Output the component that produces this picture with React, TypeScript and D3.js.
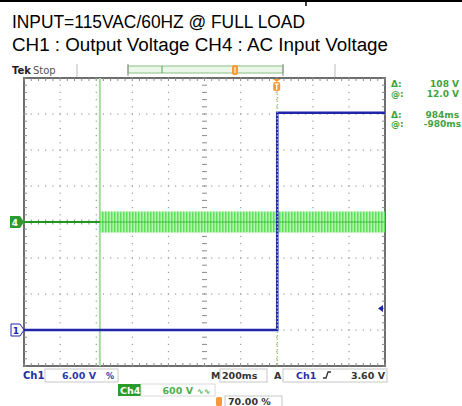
import React from 'react';
import * as d3 from 'd3';

// header text
const HEADER_1 = 'INPUT=115VAC/60HZ @ FULL LOAD';
const HEADER_2 = 'CH1 : Output Voltage CH4 : AC Input Voltage';

// time base: 200ms/div, trigger at 70%
const timeDomain = [-1.4, 0.6];
const ch1VoltsPerDiv = 6;
const ch1OffsetDiv = -3;
const ch4VoltsPerDiv = 600;

// CH1 output voltage (s, V)
const ch1Time = [-1.4, 0.003, 0.003, 0.6];
const ch1Volt = [0, 0, 36.2, 36.2];

// CH4 AC input, peak envelope (s, V)
const ch4Time = [-1.4, -0.98, -0.98, 0.6];
const ch4Peak = [0, 0, 175, 175];

// cursors + readouts
const cursorTime = [-0.98, 0.004];
const trigLevel = 3.6;
const readLabels = ['Δ:', '@:', 'Δ:', '@:'];
const readValues = ['108 V', '12.0 V', '984ms', '-980ms'];

const W = 462;
const H = 406;
const L = 24, R = 385, T = 78, B = 366;
const uiFont = "'DejaVu Sans', Verdana, sans-serif";
const narrow = "'Liberation Sans Narrow', 'Arial Narrow', 'Liberation Sans', sans-serif";

export default function App() {
  const x = d3.scaleLinear().domain(timeDomain).range([L, R]);
  const xDiv = d3.scaleLinear().domain([0, 10]).range([L, R]);
  const yDiv = d3.scaleLinear().domain([-4, 4]).range([B, T]);
  const y1 = (v: number) => yDiv(v / ch1VoltsPerDiv + ch1OffsetDiv);
  const y4 = (v: number) => yDiv(v / ch4VoltsPerDiv);

  const ch1Pts = ch1Time.map((t, i) => [t, ch1Volt[i]] as [number, number]);
  const ch1Line = d3.line<[number, number]>().x(d => x(d[0])).y(d => y1(d[1]));
  const ch4Pts = ch4Time.map((t, i) => [t, ch4Peak[i]] as [number, number]);
  const ch4Area = d3.area<[number, number]>().x(d => x(d[0])).y0(d => y4(-d[1])).y1(d => y4(d[1]));
  const ch4Line = d3.line<[number, number]>().x(d => x(d[0])).y(() => y4(0));

  const minorX = d3.range(0, 50.001, 1).map(i => xDiv(i / 5));
  const minorY = d3.range(0, 40.001, 1).map(i => yDiv(-4 + i / 5));
  const grid: JSX.Element[] = [];
  // dotted grid lines
  d3.range(1, 10).forEach(d => {
    if (d === 5) return;
    minorY.forEach((yy, k) => grid.push(<rect key={`gv${d}-${k}`} x={xDiv(d) - 0.5} y={yy - 0.6} width={1.2} height={1.2} fill="#9a9a9a" />));
  });
  d3.range(-3, 4).forEach(d => {
    if (d === 0) return;
    minorX.forEach((xx, k) => grid.push(<rect key={`gh${d}-${k}`} x={xx - 0.6} y={yDiv(d) - 0.5} width={1.2} height={1.2} fill="#9a9a9a" />));
  });
  // center cross ticks
  minorX.forEach((xx, k) => grid.push(<line key={`cx${k}`} x1={xx} x2={xx} y1={yDiv(0) - 2.5} y2={yDiv(0) + 2.5} stroke="#8a8a8a" strokeWidth={1} />));
  minorY.forEach((yy, k) => grid.push(<line key={`cy${k}`} x1={xDiv(5) - 2.5} x2={xDiv(5) + 2.5} y1={yy} y2={yy} stroke="#8a8a8a" strokeWidth={1} />));
  // border ticks
  minorX.forEach((xx, k) => {
    grid.push(<line key={`bt${k}`} x1={xx} x2={xx} y1={T} y2={T + 3} stroke="#8a8a8a" />);
    grid.push(<line key={`bb${k}`} x1={xx} x2={xx} y1={B - 3} y2={B} stroke="#8a8a8a" />);
  });
  minorY.forEach((yy, k) => {
    grid.push(<line key={`bl${k}`} x1={L} x2={L + 3} y1={yy} y2={yy} stroke="#8a8a8a" />);
    grid.push(<line key={`br${k}`} x1={R - 3} x2={R} y1={yy} y2={yy} stroke="#8a8a8a" />);
  });

  const cx1 = x(cursorTime[0]);
  const cx2 = x(cursorTime[1]);
  const trigX = x(0);
  const recX = d3.scaleLinear().domain([0, 1]).range([128, 283]);

  return (
    <svg width={W} height={H} style={{ position: 'absolute', left: 0, top: 0, background: '#fff' }}>
      <defs>
        <pattern id="acStripes" width={3} height={6} patternUnits="userSpaceOnUse">
          <rect width={3} height={6} fill="#b6f5b0" />
          <rect width={1.5} height={6} fill="#5fe05a" />
        </pattern>
      </defs>
      <line x1={0} x2={W} y1={1} y2={1} stroke="#000" strokeWidth={2} />
      <line x1={306} x2={306} y1={0} y2={6} stroke="#000" strokeWidth={1.5} />
      <text x={12} y={28} fontFamily={narrow} fontSize={18} textLength={293} lengthAdjust="spacingAndGlyphs">{HEADER_1}</text>
      <text x={12} y={50.5} fontFamily={narrow} fontSize={18} textLength={376} lengthAdjust="spacingAndGlyphs">{HEADER_2}</text>

      {/* Tek header / record bar */}
      <text x={12} y={74} fontFamily={uiFont} fontSize={10} fill="#222">
        <tspan fontWeight="bold">Tek</tspan>
        <tspan dx={2} fill="#555">Stop</tspan>
      </text>
      <line x1={77} x2={77} y1={64} y2={77} stroke="#bbb" />
      <line x1={335} x2={335} y1={64} y2={77} stroke="#bbb" />
      <rect x={recX(0)} y={66} width={recX(1) - recX(0)} height={7} fill="#eaf7e8" stroke="#8cbf88" strokeWidth={1} />
      <line x1={recX(0)} x2={recX(0)} y1={64} y2={76} stroke="#888" />
      <line x1={recX(1)} x2={recX(1)} y1={64} y2={76} stroke="#888" />
      <line x1={162} x2={162} y1={66} y2={73} stroke="#4aa84a" />
      <rect x={232} y={65} width={6} height={10} rx={2} fill="#f39a3a" />
      <line x1={235} x2={235} y1={67} y2={73} stroke="#fff" strokeWidth={1} />

      {/* graticule */}
      <rect x={L} y={T} width={R - L} height={B - T} fill="#fff" stroke="#6d6d6d" strokeWidth={2} />
      {grid}

      {/* cursor 1 */}
      <line x1={cx1} x2={cx1} y1={T} y2={B} stroke="#a6dba2" strokeWidth={2} />

      {/* CH4 */}
      <path d={ch4Line(ch4Pts) || ''} stroke="#1d9a1d" strokeWidth={2} fill="none" />
      <path d={ch4Area(ch4Pts.slice(2)) || ''} fill="url(#acStripes)" />
      <path d={ch4Line(ch4Pts.slice(2)) || ''} stroke="#3fb93f" strokeWidth={1} fill="none" />

      {/* CH1 */}
      <path d={ch1Line(ch1Pts) || ''} stroke="#1f26a8" strokeWidth={2.6} fill="none" />

      {/* cursor 2 */}
      <line x1={cx2} x2={cx2} y1={T + 12} y2={B} stroke="#9cc96a" strokeWidth={1.4} strokeDasharray="1.5 2" />

      {/* trigger position marker */}
      <path d={`M${trigX - 4},${T + 1} L${trigX + 4},${T + 1} L${trigX},${T + 4} Z`} fill="#f39a3a" />
      <rect x={trigX - 3.5} y={T + 4} width={7} height={9} rx={2} fill="#f39a3a" />
      <line x1={trigX} x2={trigX} y1={T + 6} y2={T + 12} stroke="#fff" strokeWidth={1.2} />
      <line x1={trigX - 2} x2={trigX + 2} y1={T + 6} y2={T + 6} stroke="#fff" strokeWidth={1.2} />

      {/* trigger level arrow */}
      <path d={`M${R - 7},${y1(trigLevel)} L${R - 2},${y1(trigLevel) - 3.5} L${R - 2},${y1(trigLevel) + 3.5} Z`} fill="#1f26a8" />

      {/* channel ground markers */}
      <path d={`M10,${y4(0) - 6} L20,${y4(0) - 6} L24,${y4(0)} L20,${y4(0) + 6} L10,${y4(0) + 6} Z`} fill="#2c9a2c" />
      <text x={15} y={y4(0) + 3.5} textAnchor="middle" fontFamily={uiFont} fontSize={9} fontWeight="bold" fill="#fff">4</text>
      <path d={`M11,${y1(0) - 6} L20,${y1(0) - 6} L24,${y1(0)} L20,${y1(0) + 6} L11,${y1(0) + 6} Z`} fill="#fff" stroke="#1f26a8" strokeWidth={1} />
      <text x={16} y={y1(0) + 3.5} textAnchor="middle" fontFamily={uiFont} fontSize={9} fontWeight="bold" fill="#1f26a8">1</text>

      {/* cursor readouts */}
      {readLabels.map((lab, i) => {
        const yy = [87, 96.5, 117.5, 127][i];
        return (
          <g key={`rd${i}`} fontFamily={uiFont} fontSize={9} fontWeight="bold" fill="#3fa33f">
            <text x={391} y={yy}>{lab}</text>
            <text x={i === 3 ? 461 : 459} y={yy} textAnchor="end">{readValues[i]}</text>
          </g>
        );
      })}

      {/* bottom readouts */}
      <g fontFamily={uiFont} fontSize={9.5} fontWeight="bold">
        <text x={23} y={379} fill="#1f2fa0" fontSize={10}>Ch1</text>
        <rect x={45} y={369} width={73} height={13} fill="none" stroke="#c8c8c8" />
        <text x={96} y={379} textAnchor="end" fill="#2a3aa8">6.00 V</text>
        <text x={106} y={379} fill="#2a3aa8" fontSize={8}>%</text>

        <text x={211} y={379} fill="#333">M</text>
        <rect x={220} y={369} width={47} height={13} fill="none" stroke="#c8c8c8" />
        <text x={222} y={379} fill="#333">200ms</text>
        <text x={274} y={379} fill="#333">A</text>
        <rect x={283} y={369} width={104} height={13} fill="none" stroke="#c8c8c8" />
        <text x={296} y={379} fill="#1f2fa0">Ch1</text>
        <path d="M323,378 L326,378 L328,372 L331,372" stroke="#333" strokeWidth={1.3} fill="none" />
        <text x={385} y={379} textAnchor="end" fill="#333">3.60 V</text>

        <rect x={118} y={384} width={23} height={12} fill="#2c9a2c" />
        <text x={120} y={394} fill="#fff">Ch4</text>
        <rect x={141} y={384} width={74} height={12} fill="none" stroke="#d8d8d8" />
        <text x={193} y={394} textAnchor="end" fill="#4ab04a">600 V</text>
        <text x={197} y={394} fill="#4ab04a" fontSize={8}>∿∿</text>

        <rect x={216} y={397} width={6} height={9} rx={1.5} fill="#f39a3a" />
        <rect x={225} y={396} width={57} height={12} fill="none" stroke="#c8c8c8" />
        <text x={228} y={405} fill="#333">70.00 %</text>
      </g>
    </svg>
  );
}
